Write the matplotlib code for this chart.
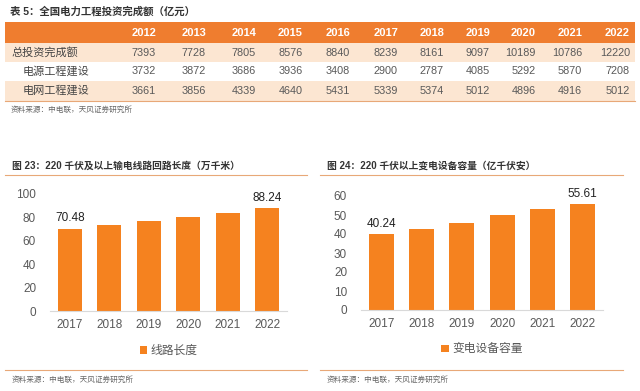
import matplotlib
matplotlib.use('Agg')
import matplotlib.pyplot as plt
from matplotlib.patches import Rectangle

plt.rcParams['font.family'] = ['Liberation Sans', 'Noto Sans CJK SC']

ORANGE = '#EF7D2F'
BAND = '#FCE6D2'
BAR = '#F5821F'
LINE = '#E8A878'
GREY = '#595959'

# table data
table_title = '表 5：全国电力工程投资完成额（亿元）'
years = ['2012', '2013', '2014', '2015', '2016', '2017', '2018', '2019', '2020', '2021', '2022']
row_names = ['总投资完成额', '电源工程建设', '电网工程建设']
total = [7393, 7728, 7805, 8576, 8840, 8239, 8161, 9097, 10189, 10786, 12220]
power_src = [3732, 3872, 3686, 3936, 3408, 2900, 2787, 4085, 5292, 5870, 7208]
power_grid = [3661, 3856, 4339, 4640, 5431, 5339, 5374, 5012, 4896, 4916, 5012]
source = '资料来源：中电联，天风证券研究所'

# bar chart data
bar_years = ['2017', '2018', '2019', '2020', '2021', '2022']
line_len = [70.48, 73.8, 77.3, 80.7, 84.1, 88.24]
sub_cap = [40.24, 42.6, 45.8, 49.8, 53.2, 55.61]
title_left = '图 23：220 千伏及以上输电线路回路长度（万千米）'
title_right = '图 24：220 千伏以上变电设备容量（亿千伏安）'

W, H = 640, 391
fig = plt.figure(figsize=(W / 100, H / 100), dpi=100)

bg = fig.add_axes([0, 0, 1, 1])
bg.set_xlim(0, W)
bg.set_ylim(H, 0)
bg.axis('off')

# table
bg.text(10, 12, table_title, fontsize=7.5, fontweight='bold', color='#333333', va='center')
bg.add_patch(Rectangle((5, 22), 630, 20.5, color=ORANGE, lw=0))
bg.add_patch(Rectangle((5, 42.5), 630, 19.5, color=BAND, lw=0))
bg.add_patch(Rectangle((5, 81), 630, 19.5, color=BAND, lw=0))
bg.plot([5, 635], [100.5, 100.5], color=LINE, lw=0.8)

col_right = [156, 206, 256, 303, 350, 398, 444, 490, 536, 582, 630]
for x, y in zip(col_right, years):
    bg.text(x, 32.5, y, fontsize=8, fontweight='bold', color='white', ha='right', va='center')

rows = [total, power_src, power_grid]
row_y = [52.5, 71.5, 90.5]
row_x = [11, 23, 23]
for name, vals, ry, rx in zip(row_names, rows, row_y, row_x):
    bg.text(rx, ry, name, fontsize=8, color='#444444', va='center')
    for x, v in zip(col_right, vals):
        bg.text(x, ry, str(v), fontsize=7.8, color=GREY, ha='right', va='center')
bg.text(11, 110, source, fontsize=5.5, color='#666666', va='center')

# chart frames
for x0, x1, title in [(5, 307, title_left), (320, 623, title_right)]:
    bg.text(x0 + 7, 166, title, fontsize=7, fontweight='bold', color='#333333', va='center')
    bg.plot([x0, x1], [175, 175], color=LINE, lw=0.8)
    bg.plot([x0, x1], [369.5, 369.5], color=LINE, lw=0.8)
    bg.text(x0 + 7, 380, source, fontsize=5.5, color='#666666', va='center')


def bar_chart(box, values, ymax, step, label):
    l, r, b, t = box
    ax = fig.add_axes([l / W, 1 - b / H, (r - l) / W, (b - t) / H])
    x = range(len(bar_years))
    ax.bar(x, values, width=0.62, color=BAR, label=label)
    ax.set_xlim(-0.5, 5.5)
    ax.set_ylim(0, ymax)
    ax.set_yticks(range(0, ymax + 1, step))
    ax.set_xticks(list(x))
    ax.set_xticklabels(bar_years)
    for s in ['top', 'right', 'left']:
        ax.spines[s].set_visible(False)
    ax.spines['bottom'].set_color('#D9D9D9')
    ax.tick_params(length=0, labelsize=8.5, colors=GREY, pad=6)
    ax.tick_params(axis='y', pad=10)
    ax.patch.set_alpha(0)
    for i in [0, len(values) - 1]:
        ax.text(i, values[i] + ymax * 0.035, f'{values[i]:.2f}', ha='center', va='bottom',
                fontsize=8.5, color='#222222')
    ax.legend(loc='upper center', bbox_to_anchor=(0.5, -0.2), frameon=False,
              fontsize=8.5, handlelength=0.6, handleheight=0.6, handletextpad=0.3,
              labelcolor=GREY)
    return ax


bar_chart((50, 287, 311, 194), line_len, 100, 20, '线路长度')
bar_chart((361, 603, 310, 196), sub_cap, 60, 10, '变电设备容量')

fig.savefig('out.png', dpi=100)
